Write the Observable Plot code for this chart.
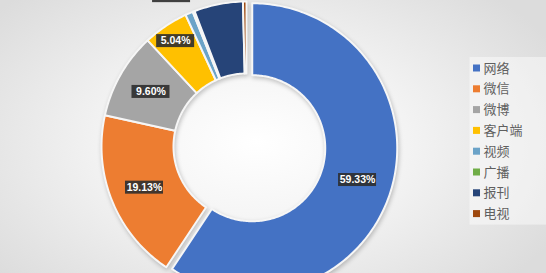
<!DOCTYPE html>
<html><head><meta charset="utf-8">
<script src="https://cdn.jsdelivr.net/npm/d3@7"></script>
<script src="https://cdn.jsdelivr.net/npm/@observablehq/plot@0.6"></script>
<style>
html,body{margin:0;padding:0;}
body{width:546px;height:273px;overflow:hidden;background:radial-gradient(ellipse 62% 75% at 47% 52%, #ffffff 0%, #f3f3f3 45%, #dcdcdc 100%);}
#chart svg{background:transparent;}
#chart svg g[aria-label="line"]{filter:drop-shadow(1px 2px 2px rgba(0,0,0,0.22));}
</style></head><body><div id="chart"></div>
<script>
const categories = ["网络","微信","微博","客户端","视频","广播","报刊","电视"];
const values = [59.33, 19.13, 9.60, 5.04, 0.86, 0.21, 5.44, 0.39];
const labels = ["59.33%","19.13%","9.60%","5.04%","","","",""];
const colors = ["#4472C4","#ED7D31","#A5A5A5","#FFC000","#6BA3C8","#70AD47","#264478","#9E480E"];

// layout
const W = 546, H = 273, cx = 246, cy = 146, R0 = 73, R1 = 145;
const explode = {"网络": 6};
const labelPlace = {"客户端": {r: 127, da: 0}, "视频": {r: 168, da: -3.2}};
const boxOnly = {"视频": true}; // label box cut off at the top edge in the reference

const data = categories.map((name, i) => ({name, value: values[i], label: labels[i]}));
const arcs = d3.pie().sort(null).value(d => d.value)(data);
const deg = Math.PI / 180;

const ringPts = [];
const labelPts = [];
arcs.forEach(a => {
  const name = a.data.name;
  const mid = (a.startAngle + a.endAngle) / 2;
  const off = explode[name] || 0;
  const ox = cx + off * Math.sin(mid), oy = cy - off * Math.cos(mid);
  const n = Math.max(2, Math.ceil((a.endAngle - a.startAngle) / deg));
  const pts = [];
  for (let k = 0; k <= n; k++) {
    const t = a.startAngle + (a.endAngle - a.startAngle) * k / n;
    pts.push([ox + R1 * Math.sin(t), oy - R1 * Math.cos(t)]);
  }
  for (let k = n; k >= 0; k--) {
    const t = a.startAngle + (a.endAngle - a.startAngle) * k / n;
    pts.push([ox + R0 * Math.sin(t), oy - R0 * Math.cos(t)]);
  }
  pts.push(pts[0]);
  pts.forEach(([x, y]) => ringPts.push({name, x, y}));
  if (a.data.label || boxOnly[name]) {
    const p = labelPlace[name] || {r: (R0 + R1) / 2 + 1, da: 0};
    const ang = mid + p.da * deg;
    labelPts.push({name, label: a.data.label, x: ox + p.r * Math.sin(ang), y: oy - p.r * Math.cos(ang)});
  }
});

const legX = 476.5, legY0 = 68, legDY = 20.8;
const legend = categories.map((name, i) => ({name, y: legY0 + i * legDY}));

const chart = Plot.plot({
  width: W, height: H,
  margin: 0,
  style: {background: "transparent", overflow: "hidden"},
  x: {domain: [0, W], range: [0, W], axis: null},
  y: {domain: [0, H], range: [0, H], axis: null},
  color: {domain: categories, range: colors},
  marks: [
    Plot.line(ringPts, {x: "x", y: "y", z: "name", fill: "name", stroke: "#f6f6f6", strokeWidth: 2, curve: "linear"}),
    Plot.rect(labelPts, {x1: d => d.x - 19, x2: d => d.x + 19, y1: d => d.y - 6.5, y2: d => d.y + 6.5, fill: "#2e2e2e", fillOpacity: 0.9}),
    Plot.text(labelPts.filter(d => d.label), {x: "x", y: "y", text: "label", fill: "white", fontSize: 10.5, fontWeight: "bold", fontFamily: "Liberation Sans, Arial, sans-serif"}),
    Plot.rect([0], {x1: legX - 7, x2: W, y1: legY0 - 11, y2: legY0 + 7 * legDY + 11, fill: "white", fillOpacity: 0.45}),
    Plot.rect(legend, {x1: legX - 3.5, x2: legX + 3.5, y1: d => d.y - 3.5, y2: d => d.y + 3.5, fill: "name"}),
    Plot.text(legend, {x: legX + 6.5, y: "y", text: "name", textAnchor: "start", fill: "#5f5f5f", fontSize: 13, fontFamily: "Noto Sans CJK SC, sans-serif"})
  ]
});
document.getElementById("chart").appendChild(chart);
</script>
</body></html>
